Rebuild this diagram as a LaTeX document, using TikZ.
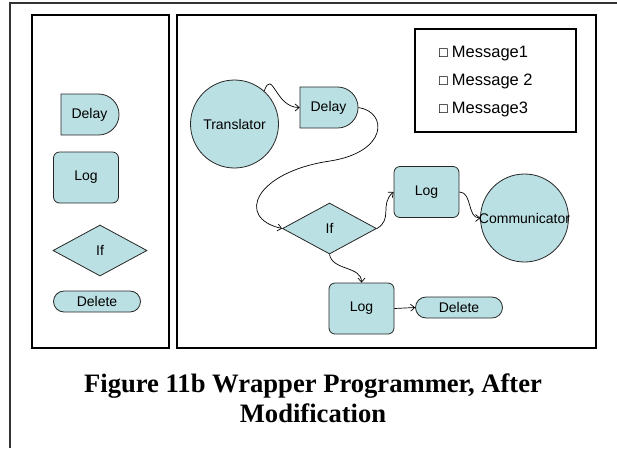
\documentclass[tikz,border=0pt]{standalone}
\usepackage{fontspec}
\setmainfont{Liberation Serif}
\newfontfamily\arialfont{Liberation Sans}
\newfontfamily\boxfont{DejaVu Sans}
\usetikzlibrary{shapes.geometric,shapes.misc,arrows.meta}
\definecolor{blockfill}{RGB}{187,224,227}

\begin{document}
\begin{tikzpicture}[
    x=1pt, y=-1pt,
    block/.style={
        draw=black!85,
        line width=0.8pt,
        fill=blockfill,
        inner sep=0pt,
        font=\arialfont\fontsize{14}{16}\selectfont
    },
    delaybox/.style={
        block,
        rounded rectangle,
        rounded rectangle left arc=none,
        minimum width=58pt,
        minimum height=41pt
    },
    logbox/.style={
        block,
        rectangle,
        rounded corners=6pt,
        minimum width=65pt,
        minimum height=51pt
    },
    ifbox/.style={
        block,
        diamond,
        minimum width=94pt,
        minimum height=51pt
    },
    deletebox/.style={
        block,
        rounded rectangle,
        minimum width=87pt,
        minimum height=21pt
    },
    agent/.style={
        block,
        circle,
        minimum size=88pt
    },
    panel/.style={
        draw=black,
        line width=2pt
    },
    message/.style={
        anchor=base west,
        inner sep=0pt,
        font=\arialfont\fontsize{16.5}{18}\selectfont
    },
    conn/.style={
        -{Straight Barb[length=4pt,width=7pt]},
        line width=0.7pt
    },
    caption/.style={
        font=\bfseries\fontsize{26.6}{30}\selectfont,
        align=center
    }
]
\useasboundingbox (0,0) rectangle (617,448);

% Outer frame
\draw[line width=1.5pt, black!80] (10,448) -- (10,3) -- (617,3);

% Panels
\draw[panel] (32,15) rectangle (169,348);
\draw[panel] (177,15) rectangle (596,348);

% Palette
\node[delaybox] (delayL) at (89.5,114.5) {Delay};
\node[logbox] (logL) at (86,177.5) {Log};
\node[ifbox] (ifL) at (100,250.5) {If};
\node[deletebox] (deleteL) at (97,301.5) {Delete};

% Messages
\draw[line width=2.5pt] (415,29) rectangle (576,132);
\node[message] (msg1) at (438,57) {{\boxfont\fontsize{12}{12}\selectfont ☐}\hspace{3pt}Message1};
\node[message] (msg2) at (438,85) {{\boxfont\fontsize{12}{12}\selectfont ☐}\hspace{3pt}Message 2};
\node[message] (msg3) at (438,113) {{\boxfont\fontsize{12}{12}\selectfont ☐}\hspace{3pt}Message3};

% Wrapper
\node[agent] (translator) at (234.5,124) {Translator};
\node[delaybox] (delayR) at (328.5,107.5) {Delay};
\node[ifbox] (ifR) at (329.5,228.5) {If};
\node[logbox] (logA) at (426.5,192) {Log};
\node[agent] (comm) at (524.5,218) {\makebox[0pt]{Communicator}};
\node[logbox] (logB) at (361.5,308.5) {Log};
\node[deletebox] (deleteR) at (459,307.5) {Delete};

% Connectors
\draw[conn] (translator.48) to[out=70,in=180,looseness=1.6] (delayR.west);
\draw[conn] (delayR.east) .. controls (388,112) and (388,152) .. (330,161)
    .. controls (255,172) and (235,218) .. (ifR.west);
\draw[conn] (ifR.east) to[out=30,in=220,looseness=1.2] (logA.west);
\draw[conn] (logA.east) to[out=0,in=180] (comm.west);
\draw[conn] (ifR.south) to[out=-80,in=90] (logB.north);
\draw[conn] (logB.east) -- (deleteR.west);

% Caption
\node[caption] (caption) at (313,398) {Figure 11b Wrapper Programmer, After\\Modification};

\end{tikzpicture}
\end{document}
